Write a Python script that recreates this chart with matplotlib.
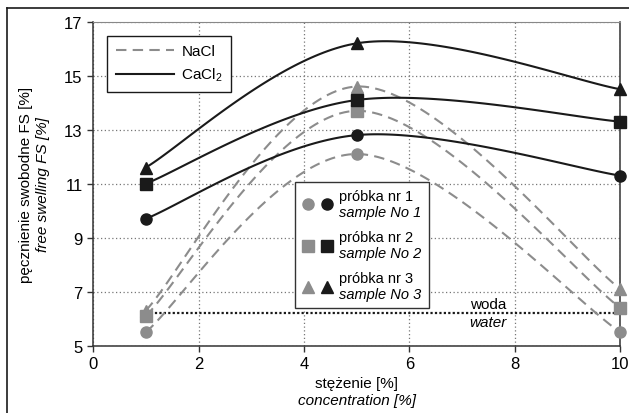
import matplotlib
matplotlib.use("Agg")
import matplotlib.pyplot as plt
from matplotlib.lines import Line2D
from matplotlib.legend_handler import HandlerTuple
import numpy as np

plt.rcParams['font.family'] = ['Liberation Sans', 'DejaVu Sans']
plt.rcParams['mathtext.fontset'] = 'custom'
plt.rcParams['mathtext.rm'] = 'Liberation Sans'
plt.rcParams['mathtext.it'] = 'Liberation Sans:italic'

# ── data ───────────────────────────────────────
conc = [1, 5, 10]
nacl = {
    1: [5.5, 12.1, 5.5],
    2: [6.1, 13.7, 6.4],
    3: [6.3, 14.6, 7.1],
}
cacl2 = {
    1: [9.7, 12.8, 11.3],
    2: [11.0, 14.1, 13.3],
    3: [11.6, 16.2, 14.5],
}
water_level = 6.2
markers = {1: "o", 2: "s", 3: "^"}

C_GREY = "#8c8c8c"
C_BLACK = "#1a1a1a"


def smooth(xs, ys, n=60):
    # Catmull-Rom -> Bezier, like Excel's smoothed line
    p = np.column_stack([xs, ys]).astype(float)
    ext = np.vstack([p[0], p, p[-1]])
    out = []
    t = np.linspace(0, 1, n)[:, None]
    for i in range(len(p) - 1):
        p0, p1, p2, p3 = ext[i], ext[i + 1], ext[i + 2], ext[i + 3]
        c1 = p1 + (p2 - p0) / 6
        c2 = p2 - (p3 - p1) / 6
        seg = ((1 - t) ** 3) * p1 + 3 * ((1 - t) ** 2) * t * c1 \
            + 3 * (1 - t) * t ** 2 * c2 + t ** 3 * p2
        out.append(seg if i == 0 else seg[1:])
    out = np.vstack(out)
    return out[:, 0], out[:, 1]


fig = plt.figure(figsize=(6.29, 4.14), dpi=100)
ax = fig.add_axes([0.148, 0.1626, 0.838, 0.7825])

for s, ys in nacl.items():
    sx, sy = smooth(conc, ys)
    ax.plot(sx, sy, color=C_GREY, lw=1.5, dashes=(5, 3), zorder=3)
    ax.plot(conc, ys, ls="none", marker=markers[s], color=C_GREY,
            ms=8, clip_on=False, zorder=5)
for s, ys in cacl2.items():
    sx, sy = smooth(conc, ys)
    ax.plot(sx, sy, color=C_BLACK, lw=1.5, zorder=4)
    ax.plot(conc, ys, ls="none", marker=markers[s], color=C_BLACK,
            ms=8, clip_on=False, zorder=6)

# water reference
ax.plot([conc[0], conc[-1]], [water_level, water_level], color=C_BLACK,
        lw=1.6, ls=(0, (1, 1)), zorder=2)
ax.text(7.5, water_level + 0.08, "woda", ha="center", va="bottom", fontsize=11)
ax.text(7.5, water_level - 0.08, "water", ha="center", va="top", fontsize=11,
        style="italic")

ax.set_xlim(0, 10)
ax.set_ylim(5, 17)
ax.set_xticks([0, 2, 4, 6, 8, 10])
ax.set_yticks([5, 7, 9, 11, 13, 15, 17])
ax.tick_params(labelsize=12, direction="out", length=4, width=1, color="#333333")
ax.grid(True, color="#777777", ls=(0, (1, 2)), lw=0.9)
ax.set_axisbelow(True)
for sp in ["left", "bottom", "right"]:
    ax.spines[sp].set_color("#333333")
    ax.spines[sp].set_linewidth(1.1)
ax.spines["top"].set_color("#888888")
ax.spines["top"].set_linewidth(0.8)

# axis labels
ax.text(-0.127, 0.5, "pęcznienie swobodne FS [%]", transform=ax.transAxes,
        rotation=90, ha="center", va="center", fontsize=11)
ax.text(-0.095, 0.5, "free swelling FS [%]", transform=ax.transAxes,
        rotation=90, ha="center", va="center", fontsize=11, style="italic")
ax.text(0.5, -0.095, "stężenie [%]", transform=ax.transAxes,
        ha="center", va="top", fontsize=11)
ax.text(0.5, -0.145, "concentration [%]", transform=ax.transAxes,
        ha="center", va="top", fontsize=11, style="italic")

# legend 1: salt
h_salt = [Line2D([], [], color=C_GREY, lw=1.5, dashes=(5, 3)),
          Line2D([], [], color=C_BLACK, lw=1.5)]
leg1 = ax.legend(h_salt, ["NaCl", "CaCl$_2$"], loc="upper left",
                 bbox_to_anchor=(0.027, 0.956), borderaxespad=0, fontsize=11,
                 handlelength=3.8, fancybox=False, framealpha=1,
                 edgecolor=C_BLACK, borderpad=0.55, labelspacing=0.5,
                 handletextpad=0.5)
leg1.get_frame().set_linewidth(1.0)
ax.add_artist(leg1)

# legend 2: samples (two-line labels, second line italic)
h_samp = []
l_top = []
l_bot = []
for s in [1, 2, 3]:
    g = Line2D([], [], ls="none", marker=markers[s], color=C_GREY, ms=8)
    b = Line2D([], [], ls="none", marker=markers[s], color=C_BLACK, ms=8)
    h_samp.append((g, b))
    l_top.append(f"próbka nr {s}")
    l_bot.append(f"sample No {s}")
leg2 = ax.legend(h_samp, [f"{a}\n{b}" for a, b in zip(l_top, l_bot)],
                 loc="upper left", bbox_to_anchor=(0.383, 0.504),
                 borderaxespad=0, fontsize=10.5,
                 handler_map={tuple: HandlerTuple(ndivide=None, pad=0.5)},
                 handlelength=2.2, fancybox=False, framealpha=1,
                 edgecolor="#333333", borderpad=0.45, labelspacing=0.75,
                 handletextpad=0.4)
leg2.get_frame().set_linewidth(1.0)
for t in leg2.get_texts():
    t.set_linespacing(1.2)
    t.set_alpha(0)

fig.canvas.draw()
inv = fig.transFigure.inverted()
for t, a, b in zip(leg2.get_texts(), l_top, l_bot):
    bb = t.get_window_extent()
    x0, y1 = inv.transform((bb.x0, bb.y1))
    _, y0 = inv.transform((bb.x0, bb.y0))
    fig.text(x0, y1, a, ha="left", va="top", fontsize=10.5, zorder=10)
    fig.text(x0, y0, b, ha="left", va="bottom", fontsize=10.5,
             style="italic", zorder=10)

# outer frame
fig.add_artist(Line2D([7 / 629, 7 / 629], [0, 1 - 9 / 414], color=C_BLACK,
                      lw=1.2, transform=fig.transFigure))
fig.add_artist(Line2D([7 / 629, 1], [1 - 9 / 414, 1 - 9 / 414], color=C_BLACK,
                      lw=1.2, transform=fig.transFigure))

fig.savefig("out.png", dpi=100, facecolor="white")
